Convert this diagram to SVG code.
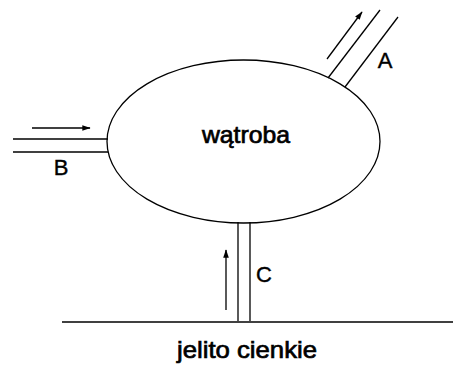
<svg xmlns="http://www.w3.org/2000/svg" width="454" height="383" viewBox="0 0 454 383">
<style>
.ln{stroke:#000;stroke-width:1.3;fill:none}
.lbl{font-family:"Liberation Sans",Arial,sans-serif;font-size:22px;fill:#000;stroke:#000;stroke-width:0.4;text-anchor:middle}
.big{font-family:"Liberation Sans",Arial,sans-serif;font-size:24px;fill:#000;stroke:#000;stroke-width:0.7;text-anchor:middle}
</style>
<defs>
<marker id="ah" viewBox="0 0 12 10" refX="11" refY="5" markerWidth="9" markerHeight="7" markerUnits="userSpaceOnUse" orient="auto">
<path d="M0,1 L12,5 L0,9 Z" fill="#000"/>
</marker>
</defs>
<rect width="454" height="383" fill="#fff"/>
<g id="connectors">
<g id="tubeA">
<line class="ln" x1="328" y1="78" x2="380" y2="10"/>
<line class="ln" x1="345" y1="87" x2="398" y2="17"/>
<line class="ln" x1="327" y1="59" x2="362" y2="12" marker-end="url(#ah)"/>
</g>
<g id="tubeB">
<line class="ln" x1="13" y1="139" x2="108" y2="139"/>
<line class="ln" x1="13" y1="152" x2="108" y2="152"/>
<line class="ln" x1="32" y1="128" x2="90" y2="128" marker-end="url(#ah)"/>
</g>
<g id="tubeC">
<line class="ln" x1="238" y1="222" x2="238" y2="321"/>
<line class="ln" x1="250" y1="222" x2="250" y2="321"/>
<line class="ln" x1="226" y1="310" x2="226" y2="250" marker-end="url(#ah)"/>
</g>
</g>
<g id="watroba">
<ellipse class="ln" cx="243.5" cy="141.5" rx="136.5" ry="81.5" fill="#fff"/>
<text class="big" x="246" y="143" textLength="88" lengthAdjust="spacingAndGlyphs">wątroba</text>
</g>
<g id="jelito">
<line class="ln" x1="62" y1="322" x2="453" y2="322"/>
<text class="big" x="247" y="358" textLength="140" lengthAdjust="spacingAndGlyphs">jelito cienkie</text>
</g>
<text class="lbl" x="385" y="68">A</text>
<text class="lbl" x="61" y="175">B</text>
<text class="lbl" x="264" y="282">C</text>
</svg>
